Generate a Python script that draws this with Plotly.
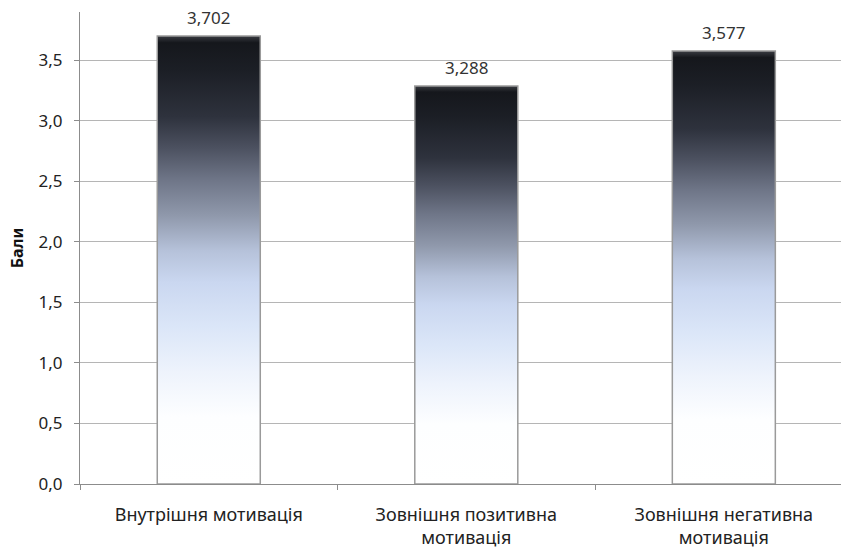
import plotly.graph_objects as go

categories = ["Внутрішня мотивація", "Зовнішня позитивна<br>мотивація", "Зовнішня негативна<br>мотивація"]
values = [3.702, 3.288, 3.577]
y_ticks = [0.0, 0.5, 1.0, 1.5, 2.0, 2.5, 3.0, 3.5]
y_title = "Бали"

BAR_W = 0.4
FONT = "Noto Sans"

# fraction of bar height (bottom -> top) to colour
bar_scale = [
    [0.0, "#ffffff"],
    [0.15, "#fdfeff"],
    [0.25, "#eef3fc"],
    [0.35, "#dbe6f8"],
    [0.45, "#cad7f0"],
    [0.52, "#b6c2da"],
    [0.6, "#8f98ab"],
    [0.68, "#6e7587"],
    [0.75, "#4c5160"],
    [0.82, "#2e323d"],
    [0.92, "#1c1f26"],
    [0.985, "#15171c"],
    [1.0, "#3a3c42"],
]

fig = go.Figure()

# invisible bars on the category axis set up the categories
fig.add_trace(go.Bar(
    x=categories, y=values, width=BAR_W,
    marker=dict(color="rgba(0,0,0,0)", line=dict(width=0)),
    hoverinfo="skip", showlegend=False,
))

# gradient-filled bar bodies on an overlaid numeric axis
for i, v in enumerate(values):
    x0, x1 = i - BAR_W / 2, i + BAR_W / 2
    fig.add_trace(go.Scatter(
        x=[x0, x0, x1, x1, x0], y=[0, v, v, 0, 0],
        xaxis="x2", mode="lines", fill="toself",
        fillgradient=dict(type="vertical", colorscale=bar_scale),
        line=dict(color="#9a9a9a", width=1.5),
        hoverinfo="skip", showlegend=False,
    ))

# value labels above each bar
for c, v in zip(categories, values):
    fig.add_annotation(
        x=c, y=v, xref="x", yref="y",
        text=f"{v:.3f}".replace(".", ","),
        showarrow=False, yanchor="bottom", yshift=5,
        font=dict(family=FONT, size=17, color="#333333"),
    )

x_range = [-0.5, 2.455]
fig.update_layout(
    width=841, height=551,
    margin=dict(l=80, r=0, t=12, b=67),
    paper_bgcolor="white", plot_bgcolor="white",
    separators=", ",
    font=dict(family=FONT, color="#222222"),
    bargap=0.6,
    xaxis=dict(
        type="category", categoryarray=categories, range=x_range,
        tickson="boundaries", ticks="outside", ticklen=5, tickcolor="#8c8c8c",
        ticklabelstandoff=14,
        showline=True, linecolor="#8c8c8c", linewidth=1,
        tickfont=dict(family=FONT, size=18, color="#222222"),
        showgrid=False, zeroline=False,
    ),
    xaxis2=dict(
        overlaying="x", range=x_range, visible=False,
        showgrid=False, zeroline=False,
    ),
    yaxis=dict(
        range=[0, 3.9], tickvals=y_ticks, tickformat=".1f",
        ticks="outside", ticklen=5, tickcolor="#8c8c8c",
        ticklabelstandoff=8,
        showline=True, linecolor="#8c8c8c", linewidth=1,
        showgrid=True, gridcolor="#b5b5b5", gridwidth=1,
        zeroline=False,
        tickfont=dict(family=FONT, size=17, color="#222222"),
        title=dict(text="<b>" + y_title + "</b>", standoff=10,
                   font=dict(family=FONT, size=16, color="#111111")),
    ),
)

fig.write_html("out.html")
